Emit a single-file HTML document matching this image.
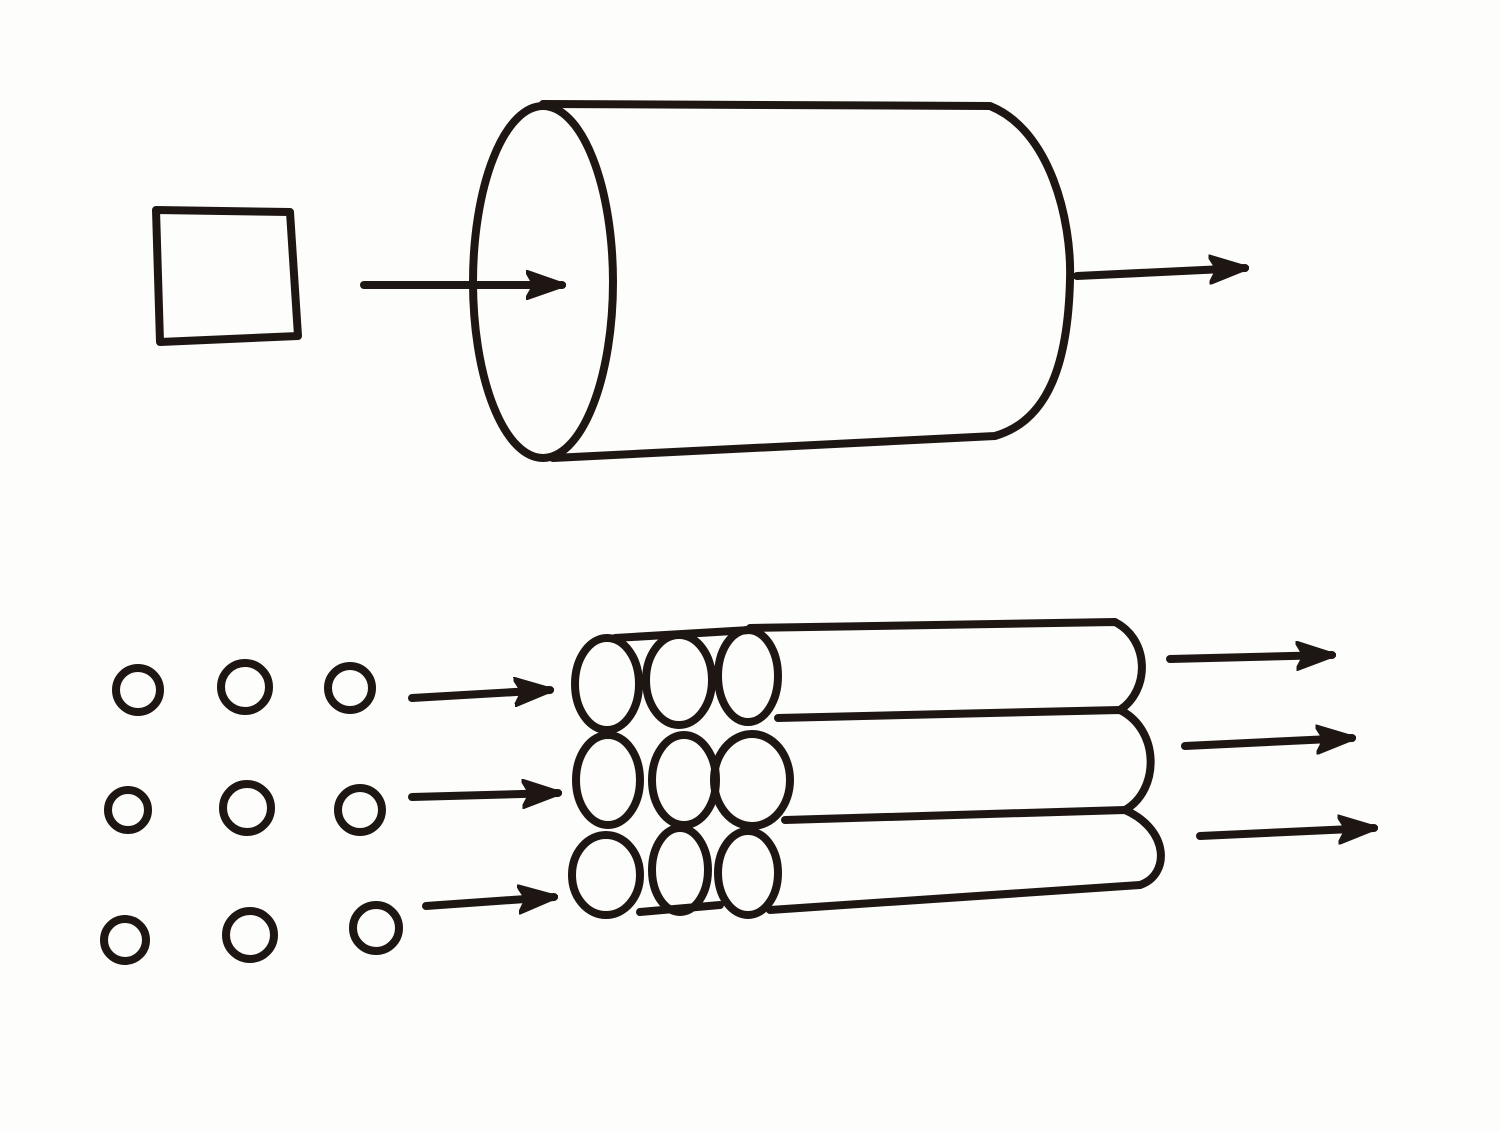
<!DOCTYPE html>
<html><head><meta charset="utf-8"><style>
html,body{margin:0;padding:0;background:#fdfdfb;}
svg{display:block}
</style></head><body>
<svg width="1500" height="1132" viewBox="0 0 1500 1132">
<defs>
<marker id="ah" viewBox="0 0 40 30" refX="36" refY="15" markerWidth="40" markerHeight="30" markerUnits="userSpaceOnUse" orient="auto"><path d="M0,1 L40,15 L0,29 L8,15 Z" fill="#1e1613" stroke="#1e1613" stroke-width="3" stroke-linejoin="round"/></marker>
</defs>
<g fill="none" stroke="#1e1613" stroke-width="8" stroke-linecap="round" stroke-linejoin="round">
<path d="M156,210 L290,212 L298,336 L160,342 Z"/>
<path d="M364,285 L562,285" marker-end="url(#ah)"/>
<g>
<ellipse cx="543" cy="282" rx="70" ry="176"/>
<path d="M543,104 L990,106 C1050,130 1072,220 1070,280 C1068,360 1050,420 995,436 L553,458"/>
</g>
<path d="M1077,276 L1245,268" marker-end="url(#ah)"/>
<g>
<circle cx="138" cy="690" r="22"/><circle cx="245" cy="687" r="24"/><circle cx="350" cy="688" r="22"/>
<circle cx="128" cy="810" r="20"/><circle cx="247" cy="808" r="24"/><circle cx="360" cy="810" r="22"/>
<circle cx="125" cy="940" r="21"/><circle cx="250" cy="935" r="24"/><circle cx="376" cy="928" r="23"/>
</g>
<g>
<path d="M412,698 L550,690" marker-end="url(#ah)"/>
<path d="M412,797 L558,793" marker-end="url(#ah)"/>
<path d="M426,906 L554,897" marker-end="url(#ah)"/>
</g>
<g>
<ellipse cx="607" cy="684" rx="32" ry="46"/><ellipse cx="679" cy="680" rx="33" ry="45"/><ellipse cx="748" cy="676" rx="30" ry="46"/>
<ellipse cx="608" cy="780" rx="32" ry="45"/><ellipse cx="684" cy="780" rx="32" ry="45"/><ellipse cx="752" cy="780" rx="38" ry="46"/>
<ellipse cx="606" cy="875" rx="34" ry="40"/><ellipse cx="680" cy="870" rx="28" ry="42"/><ellipse cx="748" cy="873" rx="30" ry="42"/>
<path d="M615,638 L750,630"/>
<path d="M750,628 L1115,622 C1150,640 1150,690 1120,710"/>
<path d="M778,718 L1120,710 C1160,730 1160,790 1125,810"/>
<path d="M785,820 L1125,810 C1170,830 1170,875 1140,885"/>
<path d="M770,910 L1140,885"/>
<path d="M640,912 L720,905"/>
</g>
<g>
<path d="M1170,659 L1332,655" marker-end="url(#ah)"/>
<path d="M1185,746 L1352,738" marker-end="url(#ah)"/>
<path d="M1200,836 L1374,828" marker-end="url(#ah)"/>
</g>
</g>
</svg>
</body></html>
